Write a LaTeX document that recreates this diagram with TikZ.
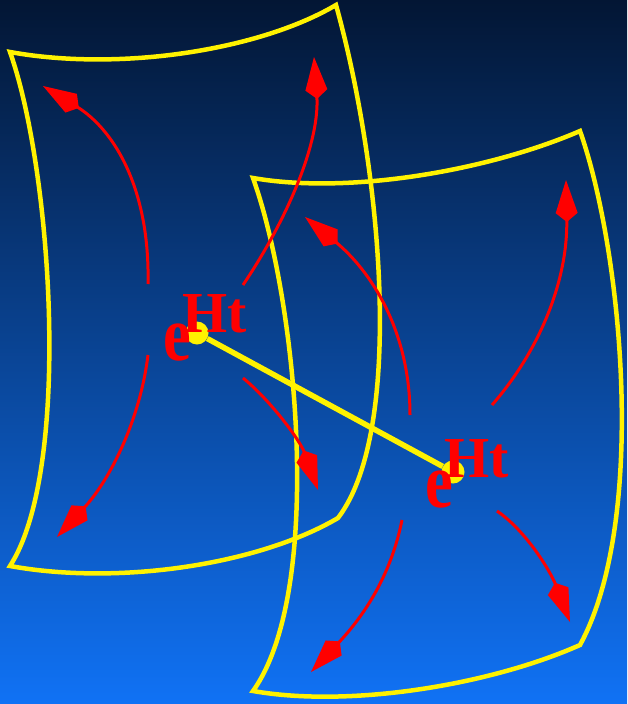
\documentclass[tikz,border=0pt]{standalone}
\usepackage{fontspec}
\setmainfont{Liberation Serif}
\usetikzlibrary{arrows.meta}
\definecolor{skytop}{RGB}{3,22,52}
\definecolor{skymid}{RGB}{11,72,158}
\definecolor{skybot}{RGB}{16,114,245}

\begin{document}
\begin{tikzpicture}[x=1pt,y=-1pt,
  sheet/.style={draw=yellow, line width=4.5pt},
  flow/.style={draw=red, line width=3pt, -{Kite[length=42pt,width=22pt,inset=9pt,line width=0pt]}},
  dot/.style={circle, fill=yellow, inner sep=0pt, minimum size=23pt},
  expo/.style={text=red, inner sep=0pt, anchor=base west, xscale=0.8, font=\bfseries\fontsize{78}{78}\selectfont},
  power/.style={text=red, inner sep=0pt, anchor=base west, font=\bfseries\fontsize{58}{58}\selectfont}]
\useasboundingbox (0,0) rectangle (627,704);
\shade[top color=skytop, middle color=skymid, bottom color=skybot] (0,0) rectangle (627,704);

% two sheets
\draw[sheet] (10,52) .. controls (120,72) and (260,50) .. (336,5) .. controls (382,170) and (405,430) .. (338,518) .. controls (260,564) and (120,586) .. (10,566) .. controls (72,470) and (52,170) .. cycle;
\draw[sheet] (253,178) .. controls (350,195) and (490,170) .. (580,131) .. controls (622,250) and (648,520) .. (580,645) .. controls (490,685) and (350,708) .. (253,691) .. controls (325,590) and (297,300) .. cycle;

% flow on the left sheet
\draw[flow] (148,284) .. controls (150,190) and (115,130) .. (43,86);
\draw[flow] (243,285) .. controls (290,215) and (320,140) .. (314,57);
\draw[flow] (148,355) .. controls (140,420) and (110,480) .. (57,537);
\draw[flow] (243,378) .. controls (270,400) and (300,440) .. (318,490);

% flow on the right sheet
\draw[flow] (410,415) .. controls (410,330) and (370,270) .. (305,217);
\draw[flow] (492,405) .. controls (540,350) and (568,280) .. (566,180);
\draw[flow] (402,520) .. controls (390,580) and (360,620) .. (311,672);
\draw[flow] (497,511) .. controls (525,530) and (550,570) .. (570,622);

\node[dot] (p1) at (197,333) {};
\node[dot] (p2) at (453,472) {};
\draw[yellow, line width=5.5pt] (p1) -- (p2);

\node[expo] (e1) at (163,360) {e};
\node[power] (h1) at (182,332) {Ht};
\node[expo] (e2) at (425,507) {e};
\node[power] (h2) at (444,477) {Ht};
\end{tikzpicture}
\end{document}
